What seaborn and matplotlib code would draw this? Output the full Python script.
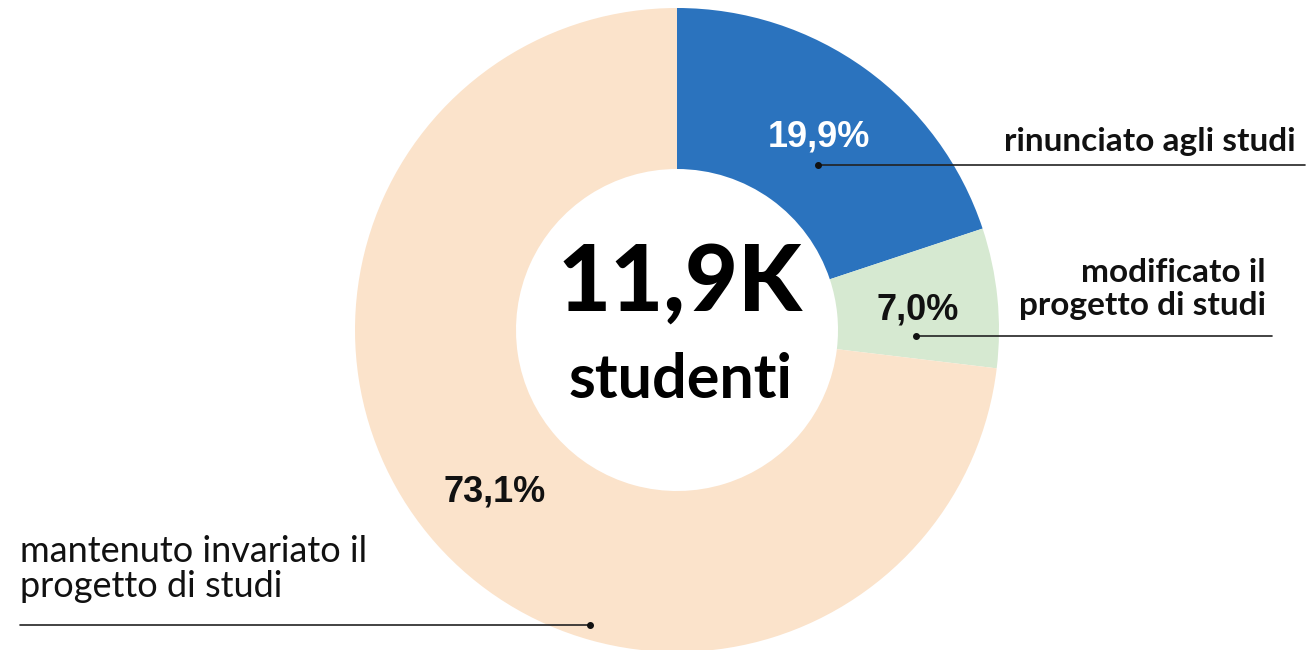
import matplotlib

matplotlib.use("Agg")
import matplotlib.pyplot as plt
import seaborn as sns

# data
categories = [
    "rinunciato agli studi",
    "modificato il\nprogetto di studi",
    "mantenuto invariato il\nprogetto di studi",
]
shares = [19.9, 7.0, 73.1]
colors = ["#2B73BE", "#D6E9D1", "#FBE3CB"]
total_label = "11,9K"
total_sub = "studenti"

sns.set_theme(style="white")
plt.rcParams["font.family"] = ["Lato", "DejaVu Sans"]

W, H = 1315, 650
fig = plt.figure(figsize=(W / 100, H / 100), dpi=100)
ax = fig.add_axes([0, 0, 1, 1])


def py(y):
    # pixel row (from top) -> data y
    return H - y


cx, cy, r_out = 677, py(330), 322
ax.pie(
    shares,
    colors=colors,
    startangle=90,
    counterclock=False,
    center=(cx, cy),
    radius=r_out,
    wedgeprops=dict(width=r_out * 0.5, linewidth=0),
    frame=True,
)
ax.set_xlim(0, W)
ax.set_ylim(0, H)
ax.set_aspect("equal")
ax.axis("off")

pct = [f"{v:.1f}%".replace(".", ",") for v in shares]
pct_font = ["Liberation Sans Narrow", "Liberation Sans"]
pct_pos = [(819, 137), (918, 310), (495, 492)]
pct_col = ["white", "#111111", "#111111"]
for s, (x, y), c in zip(pct, pct_pos, pct_col):
    ax.text(x, py(y), s, ha="center", va="center", fontsize=26,
            fontweight="bold", color=c, family=pct_font)

# centre text
ax.text(680, py(285), total_label, ha="center", va="center", fontsize=66,
        fontweight="black", color="black")
ax.text(680, py(380), total_sub, ha="center", va="center", fontsize=44,
        fontweight="bold", color="black")

# category labels with leader lines
ax.text(1296, py(141), categories[0], ha="right", va="center", fontsize=24,
        fontweight="bold", color="#111111")
ax.plot([818, 1305], [py(165), py(165)], color="#222222", lw=1.2)
ax.plot([818], [py(165)], "o", color="#111111", ms=4)

ax.text(1266, py(289), categories[1], ha="right", va="center", fontsize=24,
        fontweight="bold", color="#111111", linespacing=1.15)
ax.plot([916, 1272], [py(336), py(336)], color="#222222", lw=1.2)
ax.plot([916], [py(336)], "o", color="#111111", ms=4)

ax.text(20, py(569), categories[2], ha="left", va="center", fontsize=26,
        fontweight="normal", color="#111111", linespacing=1.08)
ax.plot([20, 590], [py(625), py(625)], color="#222222", lw=1.2)
ax.plot([590], [py(625)], "o", color="#111111", ms=4)

fig.savefig("out.png", dpi=100, facecolor="white")
plt.close(fig)
